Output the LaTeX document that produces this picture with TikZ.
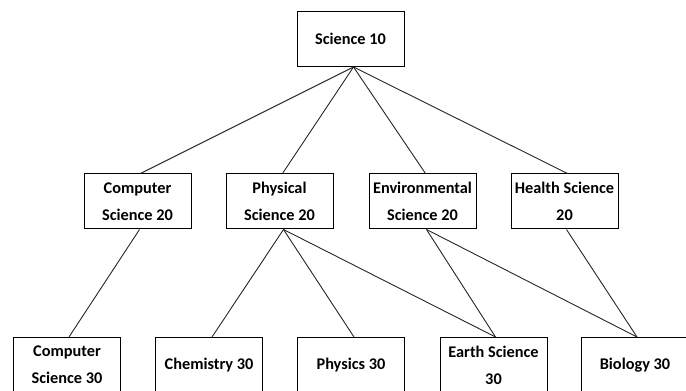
\documentclass[tikz,border=0pt]{standalone}
\usepackage{fontspec}
\setmainfont{Carlito}
\begin{document}
\begin{tikzpicture}[x=1pt, y=1pt,
  box/.style={draw, line width=1pt, minimum width=107pt, minimum height=55pt, inner sep=0pt, align=center, font=\bfseries\fontsize{16.3}{27}\selectfont},
  link/.style={line width=0.9pt, black!85}]
\pgfmathsetmacro{\ya}{352}
\pgfmathsetmacro{\yb}{189.5}
\pgfmathsetmacro{\yc}{26}

\useasboundingbox (0, 0) rectangle (686, 391);

\node[box] (sci10) at (350.5, \ya) {Science 10};

\node[box] (cs20) at (137.5, \yb) {Computer\\Science 20};
\node[box] (phys20) at (279.5, \yb) {Physical\\Science 20};
\node[box] (env20) at (422.5, \yb) {Environmental\\Science 20};
\node[box] (health20) at (564.5, \yb) {Health Science\\20};

\node[box] (cs30) at (67, \yc) {Computer\\Science 30};
\node[box] (chem30) at (209, \yc) {Chemistry 30};
\node[box] (phys30) at (351, \yc) {Physics 30};
\node[box] (earth30) at (493.5, \yc) {Earth Science\\30};
\node[box] (bio30) at (635, \yc) {Biology 30};

\draw[link] ([xshift=3]sci10.south) -- ([xshift=3]cs20.north);
\draw[link] ([xshift=3]sci10.south) -- ([xshift=3]phys20.north);
\draw[link] ([xshift=3]sci10.south) -- ([xshift=3]env20.north);
\draw[link] ([xshift=3]sci10.south) -- ([xshift=3]health20.north);

\draw[link] ([xshift=2]cs20.south) -- ([xshift=2]cs30.north);
\draw[link] ([xshift=4]phys20.south) -- ([xshift=3]chem30.north);
\draw[link] ([xshift=4]phys20.south) -- ([xshift=3]phys30.north);
\draw[link] ([xshift=4]phys20.south) -- ([xshift=2]earth30.north);
\draw[link] ([xshift=4]env20.south) -- ([xshift=2]earth30.north);
\draw[link] ([xshift=4]env20.south) -- ([xshift=2]bio30.north);
\draw[link] ([xshift=2]health20.south) -- ([xshift=2]bio30.north);
\end{tikzpicture}
\end{document}
